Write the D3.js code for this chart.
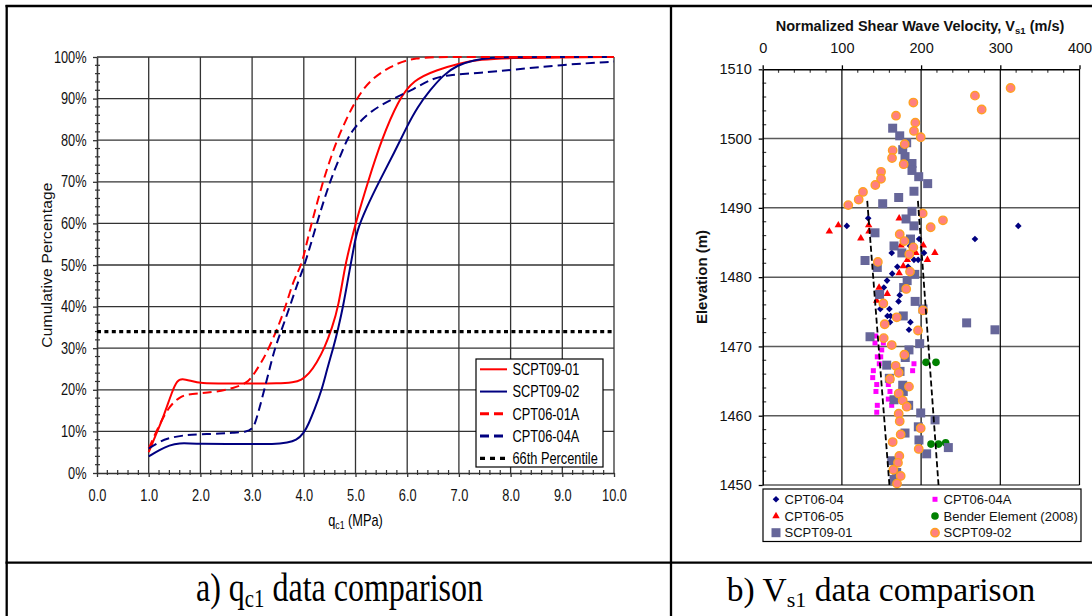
<!DOCTYPE html>
<html><head><meta charset="utf-8">
<script src="https://cdn.jsdelivr.net/npm/d3@7/dist/d3.min.js"></script>
<style>html,body{margin:0;padding:0;background:#fff;}svg{display:block;}</style>
</head><body>
<svg id="chart" width="1092" height="616"></svg>
<script>
// ================= DATA: panel a (q_c1 cumulative distributions) =================
const qTicks = [0,1,2,3,4,5,6,7,8,9,10];
const qTickLabels = ["0.0","1.0","2.0","3.0","4.0","5.0","6.0","7.0","8.0","9.0","10.0"];
const pctTicks = [0,10,20,30,40,50,60,70,80,90,100];
const pctTickLabels = ["0%","10%","20%","30%","40%","50%","60%","70%","80%","90%","100%"];

const scpt0901Q = [1.0,1.15,1.3,1.45,1.55,1.65,1.8,2.0,2.5,3.0,3.5,3.8,3.95,4.1,4.25,4.4,4.55,4.67,4.8,4.9,5.0,5.25,5.5,5.83,6.12,6.57,7.02,7.4,8.0,9.0,10.0];
const scpt0901P = [5,9.5,14,19.5,22.3,22.7,22.2,21.5,21.5,21.5,21.5,21.8,22.3,23.8,26.5,30,35,40,50,55,60,70.4,80,89.7,94.5,96.9,98.5,99.4,99.8,99.9,100];

const scpt0902Q = [1.0,1.2,1.4,1.6,1.8,2.0,2.5,3.0,3.4,3.7,3.85,4.0,4.1,4.2,4.35,4.45,4.57,4.67,4.76,4.86,4.95,5.02,5.2,5.47,5.75,5.99,6.2,6.44,6.7,6.96,7.3,7.6,8.0,10.0];
const scpt0902P = [4,5.5,6.7,7.2,7.1,7,7,7,6.9,7.3,7.8,9.5,12,15,20,25,30,35,40,47,53,58,63.5,70.4,77,83.2,88,92,95.7,98,99.3,99.8,100,100];

const cpt0601aQ = [1.0,1.2,1.41,1.6,1.73,2.0,2.3,2.64,2.9,3.02,3.15,3.28,3.48,3.65,3.8,3.96,4.05,4.15,4.26,4.37,4.5,4.64,4.82,5.02,5.28,5.67,6.1,7.0,10.0];
const cpt0601aP = [5.9,11.5,16.3,18.2,18.9,19.2,19.5,20.4,21.6,23.5,26,28.8,34.4,40,46.4,50,55,60,65,70,75,80,85,90,94.5,97.7,100,100,100];

const cpt0604aQ = [1.0,1.2,1.35,1.67,2.0,2.4,2.64,2.9,3.0,3.06,3.15,3.25,3.35,3.44,3.57,3.73,3.9,4.02,4.25,4.5,4.7,4.83,4.96,5.28,5.73,6.12,6.5,6.83,7.41,8.05,8.96,10.0];
const cpt0604aP = [5.9,7.4,8.3,9.1,9.3,9.5,9.7,9.9,10.6,11.9,15.9,20.7,25.6,30,34.4,40,46.4,50,60,70,76,80,82.8,87,90,92.2,95,95.7,96.2,96.9,98.1,98.9];

const percentileQ = [0,10];
const percentileP = [34,34];

const seriesA = ["SCPT09-01","SCPT09-02","CPT06-01A","CPT06-04A","66th Percentile"];

// ================= DATA: panel b (Vs1 vs elevation) =================
const vTicks = [0,100,200,300,400];
const elevTicks = [1450,1460,1470,1480,1490,1500,1510];

const cpt0604V = [106.2,133.2,322.7,268,197.5,186,162.9,203.7,191,196.3,170,183.5,163.5,157,153,173,171.5,148.5,160,157.5,161.5,160.7,186.5,184.7];
const cpt0604E = [1487.4,1488.5,1487.4,1485.5,1485.5,1484.5,1483.5,1483.5,1482.5,1482.5,1481.5,1481.5,1480.5,1479.5,1478.5,1477.4,1476.5,1475.4,1475.4,1474.4,1474.4,1473.5,1473.5,1472.4];

const cpt0604aV = [142.6,141.8,152.3,150.3,144.7,149,147.2,191,189.3,139.7,138.9,144,158.6,143,160.7,158.6,144.7,162.9,144];
const cpt0604aE = [1471.5,1470.5,1470.5,1469.5,1468.5,1468.5,1467.5,1467.5,1466.5,1466.5,1465.5,1464.5,1464.5,1463.5,1463.5,1462.4,1461.5,1461.5,1460.5];

const cpt0605V = [84.1,95.5,133.8,134.2,172.3,123.9,174.6,202.8,193.4,217.4,182.6,208,177.5,172.3,146.9,157.3,143.9];
const cpt0605E = [1486.6,1487.5,1487.5,1486.6,1488.5,1485.6,1484.6,1484.6,1483.5,1483.5,1482.5,1482.5,1481.6,1480.6,1478.5,1477.6,1476.6];

const benderV = [206.2,218.8,212.5,222,231];
const benderE = [1467.7,1467.7,1455.9,1455.9,1456.1];

const scpt0901V = [164.1,173,181.8,176.8,179.7,188.5,188.5,197,208.3,191,171.7,151.5,188.5,181,191,141.8,186.6,165.8,175.7,129.2,144.7,192,182.4,178,147.6,192.5,202.4,177.5,257.5,293.3,135.5,198.2,184.7,180,156.6,173.4,159.9,176.8,177.5,165.8,184.3,199.5,217.6,196.5,179.7,197.3,234.4,207,162.9,169.2,165.8];
const scpt0901E = [1501.5,1500.4,1499.4,1498.4,1497.4,1496.4,1495.4,1494.5,1493.5,1492.4,1491.5,1490.6,1489.5,1488.4,1487.4,1486.4,1485.5,1484.5,1483.5,1482.4,1481.4,1480.4,1479.5,1478.5,1477.5,1476.5,1475.4,1474.4,1473.4,1472.4,1471.4,1470.4,1469.5,1468.4,1467.3,1466.4,1465.4,1464.4,1463.5,1462.3,1461.5,1460.4,1459.4,1458.4,1457.5,1456.5,1455.4,1454.5,1453.5,1451.8,1450.8];

const scpt0902V = [313,268,276.5,190.2,168.3,192.7,191,199.5,179.3,164.1,163.3,178,149.4,149.4,142.2,126.6,121.2,108,202,227.6,212.1,173,178.8,190.2,185.1,145.4,186,181.2,152.3,202.4,169.2,154,196.1,152.8,162.9,178.8,167.9,171.7,160.7,184.7,171.7,176.8,181.8,171.7,173,199.5,174.2,164.1,197,172.5,170.8,164.9,174.2,169.6];
const scpt0902E = [1507.3,1506.2,1504.2,1505.2,1503.3,1502.3,1501.1,1500.2,1499.2,1498.3,1497.2,1496.3,1495.2,1494.2,1493.3,1492.3,1491.2,1490.4,1489.2,1488.2,1487.2,1486.2,1485.2,1484.3,1483.3,1482.2,1480.8,1478.3,1476.2,1475.2,1474.2,1473.2,1472.3,1471.2,1470.2,1468.8,1467.2,1466.2,1465.3,1464.2,1463.2,1462.2,1461.3,1460.3,1459.2,1458.2,1457.3,1456.2,1455.2,1454.2,1453.2,1452.2,1451.3,1450.2];

const trendLeftV = [132,160];
const trendLeftE = [1491,1450];
const trendRightV = [196,222];
const trendRightE = [1491,1450];

const seriesB = ["CPT06-04","CPT06-04A","CPT06-05","Bender Element (2008)","SCPT09-01","SCPT09-02"];

// ================= DRAWING =================
const svg = d3.select("#chart");
const SX = 0.8;
const sans = "'Liberation Sans', Arial, sans-serif";
const serif = "'Liberation Serif', 'Times New Roman', serif";
const zip = (a,b) => a.map((d,i)=>[d,b[i]]);

svg.append("rect").attr("width",1092).attr("height",616).attr("fill","#fff");

function ctext(g, x, y, anchor, size, sx, family) {
  return g.append("text")
    .attr("transform", `translate(${x},${y}) scale(${sx},1)`)
    .attr("text-anchor", anchor).attr("font-size", size)
    .attr("font-family", family || sans).attr("fill", "#000");
}

// ---------- table frame ----------
const fr = svg.append("g").attr("stroke","#000").attr("stroke-width",2.3).attr("fill","none");
fr.append("line").attr("x1",5.5).attr("x2",1092).attr("y1",6).attr("y2",6);
fr.append("line").attr("x1",6.7).attr("x2",6.7).attr("y1",5).attr("y2",616);
fr.append("line").attr("x1",671).attr("x2",671).attr("y1",5).attr("y2",616);
fr.append("line").attr("x1",5.5).attr("x2",1092).attr("y1",562.7).attr("y2",562.7);

// ================= PANEL A =================
const xL = d3.scaleLinear().domain([0,10]).range([97,614]);
const yL = d3.scaleLinear().domain([0,100]).range([473,57]);
const gA = svg.append("g");

// grid
gA.append("g").selectAll("line").data(qTicks.slice(1)).join("line")
  .attr("x1",d=>xL(d)).attr("x2",d=>xL(d)).attr("y1",yL(0)).attr("y2",yL(100))
  .attr("stroke","#333").attr("stroke-width",1.3);
gA.append("g").selectAll("line").data(pctTicks.slice(1)).join("line")
  .attr("x1",xL(0)).attr("x2",xL(10)).attr("y1",d=>yL(d)).attr("y2",d=>yL(d))
  .attr("stroke","#333").attr("stroke-width",1.3);

// minor ticks
const yMinor = d3.range(2,100,2).filter(d=>d%10!==0);
gA.append("g").selectAll("line").data(yMinor).join("line")
  .attr("x1",xL(0)-2).attr("x2",xL(0)+3).attr("y1",d=>yL(d)).attr("y2",d=>yL(d))
  .attr("stroke","#333").attr("stroke-width",1.2);
const xMinor = d3.range(1,50).map(i=>i*0.2).filter((d,i)=>(i+1)%5!==0);
gA.append("g").selectAll("line").data(xMinor).join("line")
  .attr("x1",d=>xL(d)).attr("x2",d=>xL(d)).attr("y1",yL(0)-3).attr("y2",yL(0)+2)
  .attr("stroke","#333").attr("stroke-width",1.2);

// axes
const yAx = gA.append("g").attr("transform",`translate(${xL(0)},0)`)
  .call(d3.axisLeft(yL).tickValues(pctTicks).tickFormat((d,i)=>pctTickLabels[i]).tickSize(4).tickSizeOuter(0).tickPadding(9));
const xAx = gA.append("g").attr("transform",`translate(0,${yL(0)})`)
  .call(d3.axisBottom(xL).tickValues(qTicks).tickFormat((d,i)=>qTickLabels[i]).tickSize(4).tickSizeOuter(0).tickPadding(13));
[yAx,xAx].forEach(a=>{
  a.select(".domain").attr("stroke","#333").attr("stroke-width",1.6);
  a.selectAll(".tick line").attr("stroke","#333").attr("stroke-width",1.3);
  a.selectAll("text").attr("transform",`scale(${SX},1)`).attr("font-size",16).attr("font-family",sans).attr("fill","#111");
});

// curves (smoothed like Excel)
const lineA = d3.line().x(d=>xL(d[0])).y(d=>yL(d[1])).curve(d3.curveBasis);
const curvesA = [
  {d: zip(scpt0901Q,scpt0901P), c:"#ff0000", dash:null},
  {d: zip(scpt0902Q,scpt0902P), c:"#000080", dash:null},
  {d: zip(cpt0601aQ,cpt0601aP), c:"#ff0000", dash:"9,5"},
  {d: zip(cpt0604aQ,cpt0604aP), c:"#000080", dash:"9,5"},
];
curvesA.forEach(s=>{
  gA.append("path").attr("d",lineA(s.d)).attr("fill","none").attr("stroke",s.c)
    .attr("stroke-width",2).attr("stroke-dasharray",s.dash);
});
gA.append("path").attr("d",d3.line().x(d=>xL(d[0])).y(d=>yL(d[1]))(zip(percentileQ,percentileP)))
  .attr("stroke","#000").attr("stroke-width",3.2).attr("stroke-dasharray","4,3.4").attr("fill","none");

// legend A
const lgA = gA.append("g");
lgA.append("rect").attr("x",476).attr("y",359).attr("width",127).attr("height",108)
  .attr("fill","#fff").attr("stroke","#000").attr("stroke-width",1.2);
const lgStyles = [
  {c:"#ff0000",dash:null,w:2},{c:"#000080",dash:null,w:2},
  {c:"#ff0000",dash:"9,5",w:3},{c:"#000080",dash:"9,5",w:3},{c:"#000",dash:"5,5",w:3.2}
];
seriesA.forEach((name,i)=>{
  const y = 369.3 + i*22.25;
  lgA.append("line").attr("x1",480).attr("x2",507).attr("y1",y).attr("y2",y)
    .attr("stroke",lgStyles[i].c).attr("stroke-width",lgStyles[i].w).attr("stroke-dasharray",lgStyles[i].dash);
  ctext(lgA,512.5,y+5.7,"start",16,SX).text(name);
});

// axis titles A
const xt = ctext(gA,355.5,525.5,"middle",16,SX);
xt.append("tspan").text("q");
xt.append("tspan").attr("font-size",11).attr("dy",3).text("c1");
xt.append("tspan").attr("dy",-3).text(" (MPa)");
gA.append("text").attr("transform","translate(51.5,265) rotate(-90)").attr("text-anchor","middle")
  .attr("font-size",15.5).attr("font-family",sans).attr("fill","#111").attr("letter-spacing",0.2)
  .text("Cumulative Percentage");

// caption a
const capA = ctext(svg,339.5,601,"middle",40,SX,serif);
capA.append("tspan").text("a) q");
capA.append("tspan").attr("font-size",26).attr("dy",6).text("c1");
capA.append("tspan").attr("dy",-6).text(" data comparison");

// ================= PANEL B =================
const xR = d3.scaleLinear().domain([0,400]).range([762.7,1079.5]);
const yR = d3.scaleLinear().domain([1450,1510]).range([485,69.3]);
const gB = svg.append("g");

// grid
gB.append("g").selectAll("line").data(elevTicks.filter(d=>d<1510)).join("line")
  .attr("x1",xR(0)).attr("x2",xR(400)).attr("y1",d=>yR(d)).attr("y2",d=>yR(d))
  .attr("stroke","#5a5a5a").attr("stroke-width",1.5);
gB.append("g").selectAll("line").data(vTicks.slice(1)).join("line")
  .attr("x1",d=>xR(d)).attr("x2",d=>xR(d)).attr("y1",yR(1450)).attr("y2",yR(1510))
  .attr("stroke","#000").attr("stroke-width",1.2);

// minor ticks
const eMinor = d3.range(1452,1510,2).filter(d=>d%10!==0);
gB.append("g").selectAll("line").data(eMinor).join("line")
  .attr("x1",xR(0)).attr("x2",xR(0)+3.5).attr("y1",d=>yR(d)).attr("y2",d=>yR(d))
  .attr("stroke","#444").attr("stroke-width",1.2);
const vMinor = d3.range(20,400,20).filter(d=>d%100!==0);
gB.append("g").selectAll("line").data(vMinor).join("line")
  .attr("x1",d=>xR(d)).attr("x2",d=>xR(d)).attr("y1",yR(1510)).attr("y2",yR(1510)+3.5)
  .attr("stroke","#444").attr("stroke-width",1.2);

const yAxB = gB.append("g").attr("transform",`translate(${xR(0)},0)`)
  .call(d3.axisLeft(yR).tickValues(elevTicks).tickFormat(d3.format("d")).tickSize(4).tickSizeOuter(0).tickPadding(7));
const xAxB = gB.append("g").attr("transform",`translate(0,${yR(1510)})`)
  .call(d3.axisTop(xR).tickValues(vTicks).tickFormat(d3.format("d")).tickSize(4).tickSizeOuter(0).tickPadding(12));
[yAxB,xAxB].forEach(a=>{
  a.select(".domain").attr("stroke","#000").attr("stroke-width",1.5);
  a.selectAll(".tick line").attr("stroke","#000").attr("stroke-width",1.3);
  a.selectAll("text").attr("font-size",14.5).attr("font-family",sans).attr("fill","#111");
});

// markers (Excel series order)
const ptsG = gB.append("g");
const sq = (s)=>d3.symbol().type(d3.symbolSquare).size(s)();
ptsG.append("g").selectAll("path").data(zip(cpt0604V,cpt0604E)).join("path")
  .attr("d",sq(22)).attr("transform",d=>`translate(${xR(d[0])},${yR(d[1])}) rotate(45)`).attr("fill","#000080");
ptsG.append("g").selectAll("path").data(zip(cpt0604aV,cpt0604aE)).join("path")
  .attr("d",sq(25)).attr("transform",d=>`translate(${xR(d[0])},${yR(d[1])})`).attr("fill","#ff00ff");
ptsG.append("g").selectAll("path").data(zip(cpt0605V,cpt0605E)).join("path")
  .attr("d",d3.symbol().type(d3.symbolTriangle).size(24)()).attr("transform",d=>`translate(${xR(d[0])},${yR(d[1])})`).attr("fill","#ff0000");
ptsG.append("g").selectAll("circle").data(zip(benderV,benderE)).join("circle")
  .attr("cx",d=>xR(d[0])).attr("cy",d=>yR(d[1])).attr("r",3.8).attr("fill","#008000");
ptsG.append("g").selectAll("path").data(zip(scpt0901V,scpt0901E)).join("path")
  .attr("d",sq(81)).attr("transform",d=>`translate(${xR(d[0])},${yR(d[1])})`).attr("fill","#666699");
ptsG.append("g").selectAll("circle").data(zip(scpt0902V,scpt0902E)).join("circle")
  .attr("cx",d=>xR(d[0])).attr("cy",d=>yR(d[1])).attr("r",4.2).attr("fill","#ff8080")
  .attr("stroke","#ffa020").attr("stroke-width",1.4);

// trend lines
const lineB = d3.line().x(d=>xR(d[0])).y(d=>yR(d[1]));
[zip(trendLeftV,trendLeftE), zip(trendRightV,trendRightE)].forEach(d=>{
  gB.append("path").attr("d",lineB(d)).attr("fill","none").attr("stroke","#000")
    .attr("stroke-width",1.8).attr("stroke-dasharray","6,3");
});

// titles B
const tB = gB.append("text").attr("x",920).attr("y",30.5).attr("text-anchor","middle")
  .attr("font-family",sans).attr("font-weight","bold").attr("font-size",14.5).attr("fill","#111");
tB.append("tspan").text("Normalized Shear Wave Velocity, V");
tB.append("tspan").attr("font-size",9.5).attr("dy",3).text("s1");
tB.append("tspan").attr("dy",-3).text(" (m/s)");
gB.append("text").attr("transform","translate(707,277) rotate(-90)").attr("text-anchor","middle")
  .attr("font-family",sans).attr("font-weight","bold").attr("font-size",15).attr("fill","#111")
  .text("Elevation (m)");

// legend B
const lgB = gB.append("g");
lgB.append("rect").attr("x",763).attr("y",489).attr("width",318).attr("height",52.5)
  .attr("fill","#fff").attr("stroke","#000").attr("stroke-width",1.2);
const lgPos = [[776,499.3],[935,499.3],[776,516],[935,516],[776,532.7],[935,532.7]];
const lgMark = [
  g=>g.append("path").attr("d",sq(22)).attr("transform","rotate(45)").attr("fill","#000080"),
  g=>g.append("path").attr("d",sq(25)).attr("fill","#ff00ff"),
  g=>g.append("path").attr("d",d3.symbol().type(d3.symbolTriangle).size(24)()).attr("fill","#ff0000"),
  g=>g.append("circle").attr("r",3.8).attr("fill","#008000"),
  g=>g.append("path").attr("d",sq(81)).attr("fill","#666699"),
  g=>g.append("circle").attr("r",4.2).attr("fill","#ff8080").attr("stroke","#ffa020").attr("stroke-width",1.4)
];
seriesB.forEach((name,i)=>{
  const g = lgB.append("g").attr("transform",`translate(${lgPos[i][0]},${lgPos[i][1]})`);
  lgMark[i](g);
  lgB.append("text").attr("x",lgPos[i][0]+8.5).attr("y",lgPos[i][1]+4.6)
    .attr("font-family",sans).attr("font-size",13).attr("fill","#111").text(name);
});

// caption b
const capB = svg.append("text").attr("x",881).attr("y",601).attr("text-anchor","middle")
  .attr("font-family",serif).attr("font-size",33.5).attr("fill","#000");
capB.append("tspan").text("b) V");
capB.append("tspan").attr("font-size",22).attr("dy",6).text("s1");
capB.append("tspan").attr("dy",-6).text(" data comparison");
</script>
</body></html>
